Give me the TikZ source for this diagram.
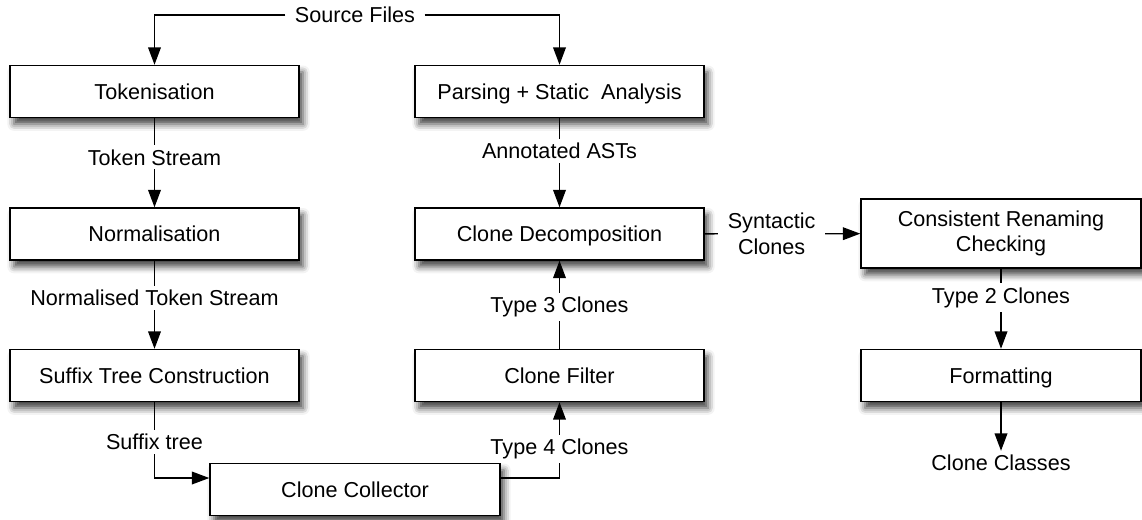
\documentclass[tikz,border=0pt]{standalone}
\usepackage{fontspec}
\setmainfont{Liberation Sans}
\usetikzlibrary{arrows.meta,shadows.blur}

\begin{document}
\begin{tikzpicture}[x=0.75pt,y=0.75pt,yscale=-1,xscale=1,
  font=\fontsize{16.2}{19}\selectfont,
  >={Triangle[length=13pt,width=9.5pt]},
  box/.style={draw,line width=1.1pt,fill=white,minimum width=216.75pt,minimum height=39pt,inner sep=0pt,align=center,
    blur shadow={shadow xshift=3pt,shadow yshift=-5pt,shadow blur radius=5pt,shadow opacity=75}},
  stage/.style={box,text height=11.6pt,text depth=0pt},
  lbl/.style={fill=white,inner xsep=7pt,inner ysep=3pt,align=center},
  flow/.style={->,line width=1pt,black}]

\useasboundingbox (0,0) rectangle (1142,519);

% input
\node [lbl] (src) at (355,15) {Source Files};

% left column
\node [stage] (tok) at (154.5,91.5) {Tokenisation};
\node [stage] (norm) at (154.5,234) {Normalisation};
\node [stage] (suffix) at (154.5,375.5) {Suffix Tree Construction};

% middle column
\node [stage] (parse) at (559.5,91.5) {Parsing + Static\ \ Analysis};
\node [stage] (decomp) at (559.5,234) {Clone Decomposition};
\node [stage] (filter) at (559.5,375.5) {Clone Filter};

% bottom
\node [stage, minimum width=217.5pt] (coll) at (355,489.5) {Clone Collector};

% right column
\node [box, minimum width=210pt, minimum height=51.75pt] (cons) at (1001,233.5) {Consistent Renaming\\Checking};
\node [stage, minimum width=210pt] (format) at (1001,375.5) {Formatting};
\node [inner sep=3pt] (classes) at (1001,463) {Clone Classes};

% token based path
\draw [flow] (src.west) -| (tok.north);
\draw [flow] (tok) -- node [lbl, pos=0.44] {Token Stream} (norm);
\draw [flow] (norm) -- node [lbl, pos=0.42] {Normalised Token Stream} (suffix);
\draw [flow] (suffix.south) |- node [lbl, pos=0.26] {Suffix tree} (coll.west |- 0,478);

% tree based path
\draw [flow] (src.east) -| (parse.north);
\draw [flow] (parse) -- node [lbl, pos=0.37] {Annotated ASTs} (decomp);
\draw [flow] (coll.east |- 0,478) -| node [lbl, pos=0.69] {Type 4 Clones} (filter.south);
\draw [flow] (filter) -- node [lbl, pos=0.47] {Type 3 Clones} (decomp);

% output
\draw [flow] (decomp) -- node [lbl, pos=0.43] {Syntactic\\Clones} (cons);
\draw [flow] (cons) -- node [lbl, pos=0.36] {Type 2 Clones} (format);
\draw [flow] (format) -- (classes);

\end{tikzpicture}
\end{document}
